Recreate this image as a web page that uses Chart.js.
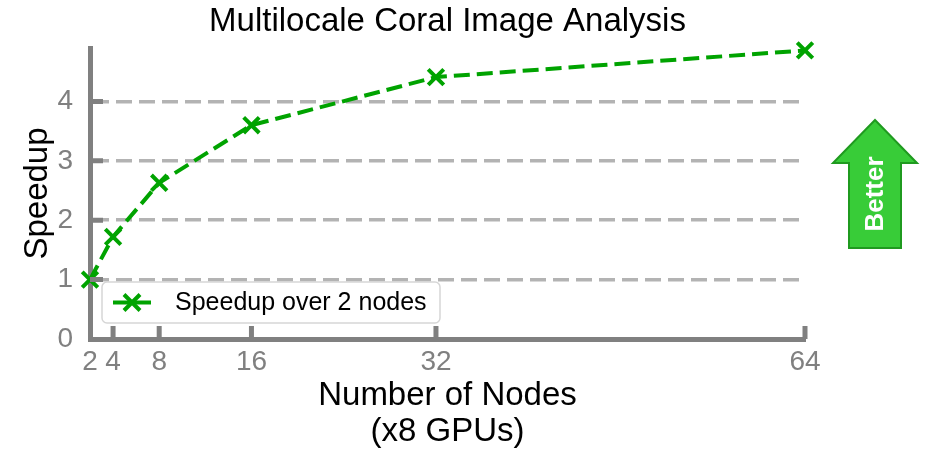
<!DOCTYPE html>
<html>
<head>
<meta charset="utf-8">
<title>Multilocale Coral Image Analysis</title>
<script src="https://cdn.jsdelivr.net/npm/chart.js@4/dist/chart.umd.min.js"></script>
<style>
  html, body { margin: 0; padding: 0; background: #fff; }
</style>
</head>
<body>
<canvas id="speedupChart" width="930" height="450"></canvas>
<script>
// node counts (x8 GPUs each) and measured speedup relative to 2 nodes
const nodes = [2, 4, 8, 16, 32, 64];
const speedup = [1.0, 1.72, 2.63, 3.6, 4.41, 4.86];
const yTicks = [0, 1, 2, 3, 4];
const seriesLabel = 'Speedup over 2 nodes';

const FONT = "'Liberation Sans', Arial, Helvetica, sans-serif";
const GREEN = '#00a300';
const SPINE = '#808080';

// short inward tick marks on both axes
const innerTicks = {
  id: 'innerTicks',
  afterDraw(chart) {
    const {ctx, scales: {x, y}} = chart;
    ctx.save();
    ctx.strokeStyle = SPINE;
    ctx.lineWidth = 5;
    ctx.beginPath();
    yTicks.slice(1).forEach(v => {
      const py = y.getPixelForValue(v);
      ctx.moveTo(x.left, py);
      ctx.lineTo(x.left + 13, py);
    });
    nodes.slice(1).forEach(v => {
      const px = x.getPixelForValue(v);
      ctx.moveTo(px, y.bottom);
      ctx.lineTo(px, y.bottom - 13);
    });
    ctx.stroke();
    ctx.restore();
  }
};

// legend box in the lower left of the plot
const boxLegend = {
  id: 'boxLegend',
  afterDraw(chart) {
    const {ctx, chartArea} = chart;
    const left = chartArea.left + 12, top = chartArea.bottom - 57;
    const w = 338, h = 41;
    ctx.save();
    ctx.fillStyle = 'rgba(255,255,255,0.85)';
    ctx.strokeStyle = '#d6d6d6';
    ctx.lineWidth = 1.5;
    ctx.beginPath();
    ctx.roundRect(left, top, w, h, 5);
    ctx.fill();
    ctx.stroke();
    const cy = top + h / 2;
    ctx.strokeStyle = GREEN;
    ctx.lineWidth = 4;
    ctx.beginPath();
    ctx.moveTo(left + 11, cy);
    ctx.lineTo(left + 49, cy);
    ctx.stroke();
    const cx = left + 30, r = 8;
    ctx.beginPath();
    ctx.moveTo(cx - r, cy - r); ctx.lineTo(cx + r, cy + r);
    ctx.moveTo(cx - r, cy + r); ctx.lineTo(cx + r, cy - r);
    ctx.stroke();
    ctx.fillStyle = '#000';
    ctx.font = '25px ' + FONT;
    ctx.textBaseline = 'middle';
    ctx.fillText(seriesLabel, left + 73, cy + 1);
    ctx.restore();
  }
};

// "Better" arrow to the right of the plot
const betterArrow = {
  id: 'betterArrow',
  afterDraw(chart) {
    const {ctx} = chart;
    const cx = 875, tipY = 120, headY = 163, baseY = 248;
    const headHalf = 42, shaftHalf = 26;
    ctx.save();
    ctx.beginPath();
    ctx.moveTo(cx, tipY);
    ctx.lineTo(cx + headHalf, headY);
    ctx.lineTo(cx + shaftHalf, headY);
    ctx.lineTo(cx + shaftHalf, baseY);
    ctx.lineTo(cx - shaftHalf, baseY);
    ctx.lineTo(cx - shaftHalf, headY);
    ctx.lineTo(cx - headHalf, headY);
    ctx.closePath();
    ctx.fillStyle = '#38cc38';
    ctx.fill();
    ctx.strokeStyle = '#1f9a1f';
    ctx.lineWidth = 2;
    ctx.stroke();
    ctx.translate(cx + 1, 194);
    ctx.rotate(-Math.PI / 2);
    ctx.fillStyle = '#fff';
    ctx.font = 'bold 26px ' + FONT;
    ctx.textAlign = 'center';
    ctx.textBaseline = 'middle';
    ctx.fillText('Better', 0, 0);
    ctx.restore();
  }
};

new Chart(document.getElementById('speedupChart'), {
  type: 'scatter',
  data: {
    datasets: [{
      label: seriesLabel,
      data: nodes.map((n, i) => ({x: n, y: speedup[i]})),
      showLine: true,
      borderColor: GREEN,
      backgroundColor: GREEN,
      borderWidth: 4,
      borderDash: [16, 7],
      pointStyle: 'crossRot',
      pointRadius: 11,
      pointBorderWidth: 4,
      pointBorderColor: GREEN,
      clip: false
    }]
  },
  options: {
    responsive: false,
    animation: false,
    layout: { padding: { left: 0, right: 125, top: 0, bottom: 0 } },
    plugins: {
      legend: { display: false },
      tooltip: { enabled: false },
      title: {
        display: true,
        fullSize: false,
        text: 'Multilocale Coral Image Analysis',
        color: '#000',
        font: { family: FONT, size: 33, weight: 'normal', lineHeight: 1.2 },
        padding: { top: 2, bottom: 6.4 }
      }
    },
    scales: {
      x: {
        type: 'linear',
        min: 2,
        max: 64,
        afterBuildTicks: s => { s.ticks = nodes.map(v => ({value: v})); },
        afterFit: s => { s.height = 111; },
        grid: { drawOnChartArea: false, drawTicks: false },
        border: { display: true, color: SPINE, width: 5 },
        ticks: {
          color: SPINE,
          padding: 6,
          autoSkip: false,
          maxRotation: 0,
          font: { family: FONT, size: 28 }
        },
        title: {
          display: true,
          text: ['Number of Nodes', '(x8 GPUs)'],
          color: '#000',
          font: { family: FONT, size: 33, lineHeight: 1.1 },
          padding: { top: 0, bottom: 0 }
        }
      },
      y: {
        min: 0,
        max: 4.9,
        afterBuildTicks: s => { s.ticks = yTicks.map(v => ({value: v})); },
        afterFit: s => { s.width = 90; },
        grid: {
          drawTicks: false,
          lineWidth: 3.5,
          color: c => (c.tick && c.tick.value === 0 ? 'rgba(0,0,0,0)' : '#b3b3b3')
        },
        border: { display: true, color: SPINE, width: 5, dash: [16, 7] },
        ticks: {
          color: SPINE,
          padding: 17,
          font: { family: FONT, size: 28 }
        },
        title: {
          display: true,
          text: 'Speedup',
          color: '#000',
          font: { family: FONT, size: 33, lineHeight: 1.1 },
          padding: { top: 20, bottom: 0 }
        }
      }
    }
  },
  plugins: [innerTicks, boxLegend, betterArrow]
});
</script>
</body>
</html>
